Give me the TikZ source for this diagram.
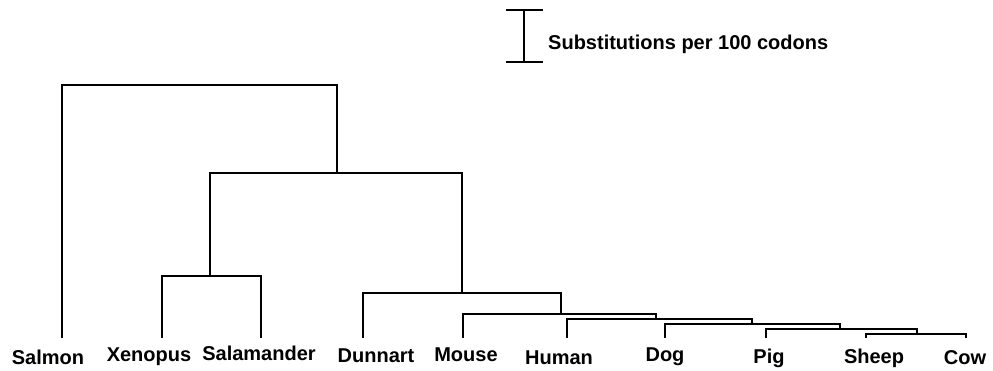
\documentclass[tikz,border=0pt]{standalone}
\usepackage{fontspec}
\setmainfont{Liberation Sans}
\begin{document}
\begin{tikzpicture}[x=1pt,y=-1pt,
  branch/.style={draw=black,line width=2.9pt,line join=miter},
  leaflabel/.style={anchor=base,inner sep=0pt,font=\fontsize{20}{24}\selectfont\bfseries},
  scalelabel/.style={anchor=base west,inner sep=0pt,font=\fontsize{20}{24}\selectfont\bfseries}]
\useasboundingbox (0,0) rectangle (993,370);
% leaf tips
\coordinate (tSalmon) at (62,338);
\coordinate (tXenopus) at (162,338);
\coordinate (tSalamander) at (261,338);
\coordinate (tDunnart) at (363,338);
\coordinate (tMouse) at (463,338);
\coordinate (tHuman) at (567,338);
\coordinate (tDog) at (665,338);
\coordinate (tPig) at (766,338);
\coordinate (tSheep) at (866,338);
\coordinate (tCow) at (966,338);
% internal nodes
\coordinate (n1) at (199,85);
\coordinate (n2) at (337,173);
\coordinate (n3) at (210,276);
\coordinate (n4) at (462,293);
\coordinate (n5) at (561,314);
\coordinate (n6) at (656,319);
\coordinate (n7) at (752,324);
\coordinate (n8) at (840,329);
\coordinate (n9) at (917,334);
% branches
\draw[branch] (tSalmon) |- (n1);
\draw[branch] (n2) |- (n1);
\draw[branch] (n3) |- (n2);
\draw[branch] (n4) |- (n2);
\draw[branch] (tXenopus) |- (n3);
\draw[branch] (tSalamander) |- (n3);
\draw[branch] (tDunnart) |- (n4);
\draw[branch] (n5) |- (n4);
\draw[branch] (tMouse) |- (n5);
\draw[branch] (n6) |- (n5);
\draw[branch] (tHuman) |- (n6);
\draw[branch] (n7) |- (n6);
\draw[branch] (tDog) |- (n7);
\draw[branch] (n8) |- (n7);
\draw[branch] (tPig) |- (n8);
\draw[branch] (n9) |- (n8);
\draw[branch] (tSheep) |- (n9);
\draw[branch] (tCow) |- (n9);
% labels
\node[leaflabel] (lSalmon) at (48,364) {Salmon};
\node[leaflabel] (lXenopus) at (149,361) {Xenopus};
\node[leaflabel] (lSalamander) at (259,360) {Salamander};
\node[leaflabel] (lDunnart) at (376,362) {Dunnart};
\node[leaflabel] (lMouse) at (466,361) {Mouse};
\node[leaflabel] (lHuman) at (559,364) {Human};
\node[leaflabel] (lDog) at (665,361) {Dog};
\node[leaflabel] (lPig) at (769,363) {Pig};
\node[leaflabel] (lSheep) at (874,363) {Sheep};
\node[leaflabel] (lCow) at (965,364) {Cow};
% scale bar
\coordinate (sbT) at (524,10);
\coordinate (sbB) at (524,62);
\coordinate (sbTL) at (506,10);
\coordinate (sbTR) at (543,10);
\coordinate (sbBL) at (506,62);
\coordinate (sbBR) at (543,62);
\draw[branch] (sbT) -- (sbB);
\draw[branch] (sbTL) -- (sbTR);
\draw[branch] (sbBL) -- (sbBR);
\node[scalelabel] (sbText) at (548,49) {Substitutions per 100 codons};
\end{tikzpicture}
\end{document}
